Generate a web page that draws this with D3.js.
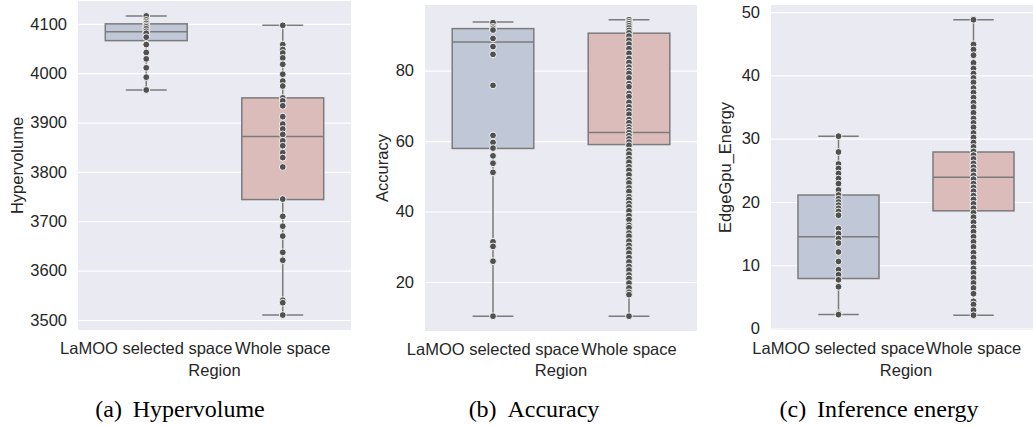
<!DOCTYPE html>
<html>
<head>
<meta charset="utf-8">
<script src="https://cdn.jsdelivr.net/npm/d3@7"></script>
<style>
  html, body { margin: 0; padding: 0; background: #fff; }
  svg { display: block; }
</style>
</head>
<body>
<div id="chart"></div>
<script>
// Categories shared by all three panels.
var regions = ["LaMOO selected space", "Whole space"];

// Box stats: [whisker low, q1, median, q3, whisker high].
var hvStats = [[3966, 4066, 4084, 4100, 4116], [3510, 3744, 3872, 3950, 4097]];
var accStats = [[10.3, 57.9, 88.1, 91.9, 93.8], [10.3, 59.0, 62.4, 90.6, 94.4]];
var enStats = [[2.2, 7.9, 14.5, 21.1, 30.4], [2.1, 18.6, 23.9, 27.9, 48.8]];

// Individual points (estimated).
var hvLamoo = [4116, 4108, 4104, 4101, 4097, 4094, 4090, 4085, 4081, 4073, 4058, 4042, 4029, 4011, 3992, 3966];
var hvWhole = [4097, 4058, 4048, 4041, 4031, 4018, 3998, 3984, 3974, 3950, 3944, 3934, 3912, 3897, 3887,
  3876, 3863, 3853, 3839, 3829, 3810, 3745, 3710, 3690, 3670, 3637, 3621, 3540, 3535, 3510];

var accLamoo = [93.6, 92.4, 92.0, 91.5, 89.1, 86.8, 84.6, 75.8, 61.6, 59.6, 58.0, 55.8, 53.7, 51.1,
  31.4, 30.1, 25.9, 10.3];
var accWhole = [94.4, 93.8, 93.3, 92.7, 92.1, 91.4, 90.7, 89.8, 88.6, 87.5, 86.2, 84.9, 83.4, 82.3,
  81.0, 80.0, 79.2, 77.9, 76.3, 75.4, 73.5, 72.6, 71.0, 69.7, 68.6, 67.6, 66.1, 65.2, 64.0, 63.2,
  62.4, 61.5, 60.6, 59.7, 58.8, 57.3, 56.3, 55.0, 54.0, 52.7, 51.7, 50.4, 49.0, 48.1, 46.7, 45.7,
  44.2, 43.4, 42.3, 41.3, 40.2, 38.8, 37.7, 36.1, 35.4, 33.9, 33.0, 31.6, 30.4, 29.3, 28.2, 26.9,
  25.7, 24.4, 23.4, 22.0, 21.0, 19.7, 18.3, 17.1, 16.4, 10.3];

var enLamoo = [30.4, 27.9, 26.0, 25.3, 24.5, 23.7, 22.9, 21.9, 21.1, 20.5, 20.0, 19.5, 19.0, 18.5, 17.9,
  15.8, 15.0, 14.2, 13.5, 12.1, 10.6, 9.3, 8.5, 7.7, 6.6, 2.4, 2.2];
var enWhole = [48.8, 44.9, 44.1, 43.2, 42.0, 41.1, 40.3, 39.6, 38.9, 38.0, 37.3, 36.5, 35.7, 35.0, 34.1,
  33.2, 32.5, 31.8, 30.9, 30.2, 29.4, 28.7, 28.0, 27.4, 26.8, 26.1, 25.5, 24.9, 24.2, 23.6, 22.9,
  22.3, 21.7, 21.0, 20.4, 19.7, 19.0, 18.3, 17.6, 16.8, 16.0, 15.3, 14.5, 13.7, 12.9, 12.0, 11.2,
  10.4, 9.5, 8.8, 8.0, 7.2, 6.4, 5.5, 4.3, 3.8, 2.9, 2.1];

var hvTicks = [3500, 3600, 3700, 3800, 3900, 4000, 4100];
var accTicks = [20, 40, 60, 80];
var enTicks = [0, 10, 20, 30, 40, 50];

var boxColors = ["#c0c8d7", "#dcbcbb"];
var lineColor = "#7b7b7b";

var W = 1033, H = 426;
var svg = d3.select("#chart").append("svg").attr("width", W).attr("height", H);

// Panel layout (pixels).
var panels = [
  { left: 78, right: 351, top: 1, bottom: 330, stats: hvStats, pts: [hvLamoo, hvWhole], ticks: hvTicks,
    ylabel: "Hypervolume", ylabelX: 17, caption: "(a) \u2009Hypervolume", capX: 180 },
  { left: 425, right: 697, top: 5, bottom: 331, stats: accStats, pts: [accLamoo, accWhole], ticks: accTicks,
    ylabel: "Accuracy", ylabelX: 382, caption: "(b) \u2009Accuracy", capX: 534 },
  { left: 771, right: 1041, top: 5, bottom: 330, stats: enStats, pts: [enLamoo, enWhole], ticks: enTicks,
    ylabel: "EdgeGpu_Energy", ylabelX: 725, caption: "(c) \u2009Inference energy", capX: 879 }
];

var sans = "Liberation Sans, Arial, sans-serif";

panels.forEach(function(p) {
  var all = p.pts[0].concat(p.pts[1]);
  var lo = d3.min(all), hi = d3.max(all), pad = (hi - lo) * 0.05;

  var y = d3.scaleLinear().domain([lo - pad, hi + pad]).range([p.bottom, p.top]);
  var x = d3.scaleBand().domain(regions).range([p.left, p.right]);
  var boxW = x.bandwidth() * 0.6, capW = x.bandwidth() * 0.3;

  var g = svg.append("g");

  g.append("rect")
    .attr("x", p.left).attr("y", p.top)
    .attr("width", p.right - p.left).attr("height", p.bottom - p.top)
    .attr("fill", "#eaeaf2");

  // Grid lines + y tick labels.
  var yAxis = d3.axisLeft(y).tickValues(p.ticks).tickFormat(d3.format("d"))
    .tickSize(-(p.right - p.left)).tickPadding(11);
  var ya = g.append("g").attr("transform", "translate(" + p.left + ",0)").call(yAxis);
  ya.select(".domain").remove();
  ya.selectAll(".tick line").attr("stroke", "#fff").attr("stroke-width", 1.2);
  ya.selectAll(".tick text")
    .attr("fill", "#262626")
    .style("font-family", sans)
    .style("font-size", "16.5px");

  // X tick labels.
  var xAxis = d3.axisBottom(x).tickSize(0).tickPadding(12);
  var xa = g.append("g").attr("transform", "translate(0," + p.bottom + ")").call(xAxis);
  xa.select(".domain").remove();
  xa.selectAll(".tick text")
    .attr("fill", "#262626")
    .style("font-family", sans)
    .style("font-size", "16.5px");

  // Axis titles.
  g.append("text")
    .attr("x", (p.left + Math.min(p.right, W)) / 2 + (p.right > W ? 4 : 0))
    .attr("y", 376)
    .attr("text-anchor", "middle")
    .attr("fill", "#262626")
    .style("font-family", sans)
    .style("font-size", "16.5px")
    .text("Region");

  g.append("text")
    .attr("transform", "translate(" + (p.ylabelX + 6) + "," + ((p.top + p.bottom) / 2) + ") rotate(-90)")
    .attr("text-anchor", "middle")
    .attr("fill", "#262626")
    .style("font-family", sans)
    .style("font-size", "16.5px")
    .text(p.ylabel);

  // Boxes, whiskers and the points on top.
  regions.forEach(function(r, i) {
    var s = p.stats[i];
    var cx = x(r) + x.bandwidth() / 2;

    g.append("line").attr("x1", cx).attr("x2", cx).attr("y1", y(s[0])).attr("y2", y(s[1]))
      .attr("stroke", lineColor).attr("stroke-width", 1.5);
    g.append("line").attr("x1", cx).attr("x2", cx).attr("y1", y(s[3])).attr("y2", y(s[4]))
      .attr("stroke", lineColor).attr("stroke-width", 1.5);
    [s[0], s[4]].forEach(function(v) {
      g.append("line").attr("x1", cx - capW / 2).attr("x2", cx + capW / 2).attr("y1", y(v)).attr("y2", y(v))
        .attr("stroke", lineColor).attr("stroke-width", 1.5);
    });
    g.append("rect")
      .attr("x", cx - boxW / 2).attr("y", y(s[3]))
      .attr("width", boxW).attr("height", y(s[1]) - y(s[3]))
      .attr("fill", boxColors[i]).attr("stroke", lineColor).attr("stroke-width", 1.5);
    g.append("line").attr("x1", cx - boxW / 2).attr("x2", cx + boxW / 2).attr("y1", y(s[2])).attr("y2", y(s[2]))
      .attr("stroke", lineColor).attr("stroke-width", 1.5);

    g.selectAll(".pt" + i)
      .data(p.pts[i])
      .enter().append("circle")
      .attr("class", "pt" + i)
      .attr("cx", cx)
      .attr("cy", function(d) { return y(d); })
      .attr("r", 3.4)
      .attr("fill", "#505050")
      .attr("stroke", "#ffffff")
      .attr("stroke-width", 0.9);
  });

  // Caption.
  svg.append("text")
    .attr("x", p.capX).attr("y", 417)
    .attr("text-anchor", "middle")
    .attr("fill", "#000")
    .style("font-family", "Liberation Serif, Times New Roman, serif")
    .style("font-size", "24px")
    .text(p.caption);
});
</script>
</body>
</html>
